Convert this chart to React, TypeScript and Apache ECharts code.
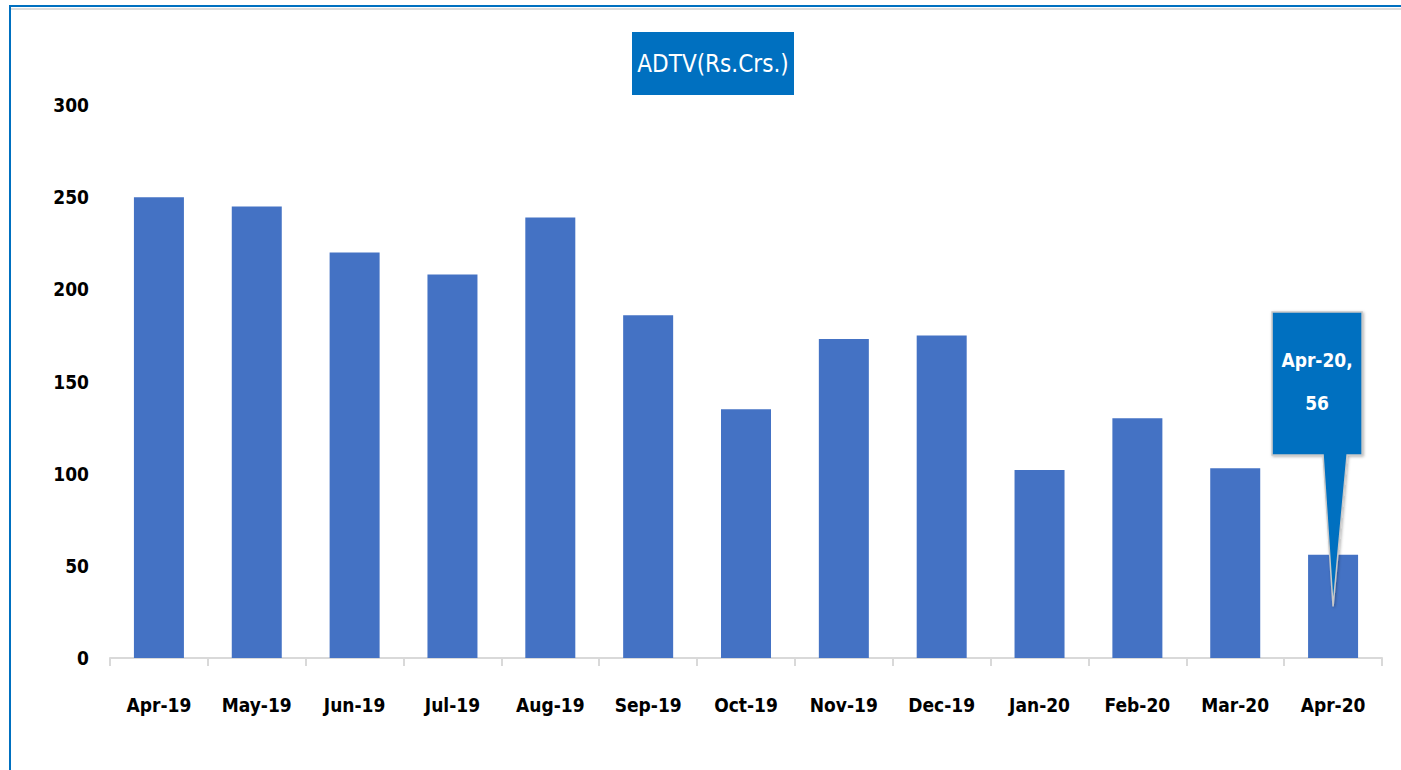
import React, { useEffect, useRef } from "react";
import * as echarts from "echarts";

const categories = ["Apr-19", "May-19", "Jun-19", "Jul-19", "Aug-19", "Sep-19", "Oct-19", "Nov-19", "Dec-19", "Jan-20", "Feb-20", "Mar-20", "Apr-20"];
const adtvValues = [250, 245, 220, 208, 239, 186, 135, 173, 175, 102, 130, 103, 56];
const titleText = "ADTV(Rs.Crs.)";
const yTicks = { min: 0, max: 300, interval: 50 };

const FONT = "'DejaVu Sans Condensed', 'Liberation Sans Narrow', sans-serif";
const BLUE = "#0070C0";

export default function App() {
  const ref = useRef<HTMLDivElement>(null);
  useEffect(() => {
    if (!ref.current) return;
    const chart = echarts.init(ref.current, null, { renderer: "svg" });
    const option: any = {
      animation: false,
      backgroundColor: "#ffffff",
      grid: { left: 110, right: 19, top: 105, bottom: 112, containLabel: false },
      xAxis: {
        type: "category",
        data: categories,
        axisLine: { lineStyle: { color: "#d9d9d9", width: 2 } },
        axisTick: { show: true, length: 8, lineStyle: { color: "#d9d9d9", width: 2 } },
        axisLabel: { interval: 0, color: "#000", fontFamily: FONT, fontWeight: "bold", fontSize: 19, margin: 37 },
      },
      yAxis: {
        type: "value",
        min: yTicks.min,
        max: yTicks.max,
        interval: yTicks.interval,
        splitLine: { show: false },
        axisLine: { show: false },
        axisTick: { show: false },
        axisLabel: { color: "#000", fontFamily: FONT, fontWeight: "bold", fontSize: 19, margin: 21 },
      },
      series: [
        {
          type: "bar",
          data: adtvValues,
          barWidth: 50,
          itemStyle: { color: "#4472C4" },
        },
      ],
    };
    chart.setOption(option);

    const last = categories.length - 1;
    const base = chart.convertToPixel({ seriesIndex: 0 }, [categories[last], 0]) as number[];
    const tip = chart.convertToPixel({ seriesIndex: 0 }, [categories[last], adtvValues[last] / 2]) as number[];
    const cx = base[0];
    const L = cx - 61, R = cx + 29, T = 312, B = 455;
    const graphics: any[] = [
      { type: "rect", shape: { x: 10, y: 6, width: 1400, height: 770 }, style: { fill: "none", stroke: BLUE, lineWidth: 2 }, z: 10 },
      { type: "line", shape: { x1: 11, y1: 9, x2: 1401, y2: 9 }, style: { stroke: "#dcdcdc", lineWidth: 2 }, z: 10 },
      { type: "rect", shape: { x: 632, y: 32, width: 162, height: 63 }, style: { fill: BLUE }, z: 10 },
      { type: "text", x: 713, y: 64, style: { text: titleText, fill: "#fff", font: `24px ${FONT}`, align: "center", verticalAlign: "middle" }, z: 11 },
      {
        type: "polygon",
        shape: { points: [[L, T], [R, T], [R, B], [cx + 14, B], [tip[0], tip[1]], [cx - 10, B], [L, B]] },
        style: { fill: BLUE, stroke: "#c8c8c8", lineWidth: 1.5, shadowBlur: 3, shadowColor: "rgba(0,0,0,0.3)", shadowOffsetX: 1, shadowOffsetY: 1 },
        z: 20,
      },
      {
        type: "text",
        x: (L + R) / 2,
        y: (T + B) / 2 - 2,
        style: { text: `${categories[last]},\n${adtvValues[last]}`, fill: "#fff", font: `bold 19px ${FONT}`, align: "center", verticalAlign: "middle", lineHeight: 43 },
        z: 21,
      },
    ];
    chart.setOption({ graphic: graphics });
    return () => chart.dispose();
  }, []);
  return <div ref={ref} style={{ position: "fixed", left: 0, top: 0, width: 1401, height: 770 }} />;
}
